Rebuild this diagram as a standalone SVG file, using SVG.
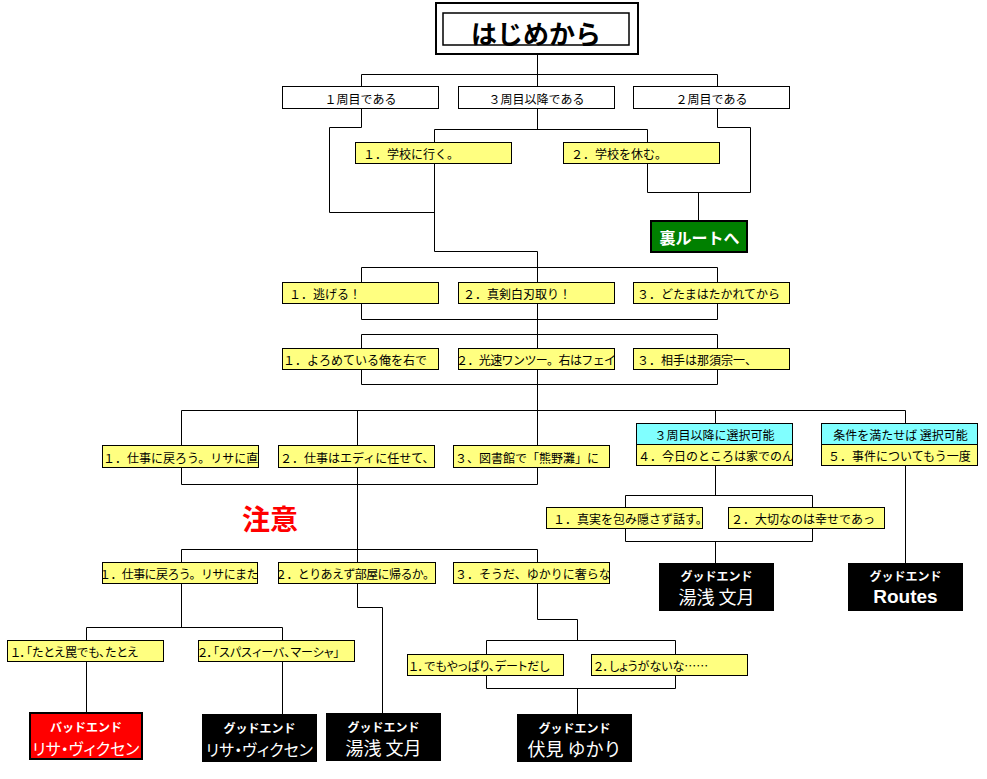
<svg xmlns="http://www.w3.org/2000/svg" width="987" height="779" viewBox="0 0 987 779">
<style>
text{font-family:"Noto Sans CJK JP","Noto Sans",sans-serif;dominant-baseline:central}
.t{font-size:12px;fill:#000}
.c{text-anchor:middle}
.p{font-feature-settings:"palt"}
.n{letter-spacing:-0.6px}
.w{fill:#fff;stroke:#000;stroke-width:1}
.y{fill:#ffff80;stroke:#000;stroke-width:1}
.cy{fill:#80ffff;stroke:#000;stroke-width:1}
.bk{fill:#000}
.e1{font-size:12px;font-weight:bold;fill:#fff;text-anchor:middle}
.e2{font-size:18px;fill:#fff;text-anchor:middle}
#connectors path{fill:none;stroke:#000;stroke-width:1}
</style>
<defs>
<clipPath id="k-yo2"><rect x="459" y="349" width="155" height="20"/></clipPath>
<clipPath id="k-sh1"><rect x="103" y="446" width="155" height="21"/></clipPath>
<clipPath id="k-sh2"><rect x="279" y="446" width="155" height="21"/></clipPath>
<clipPath id="k-4"><rect x="637" y="445" width="155" height="20"/></clipPath>
<clipPath id="k-sj1"><rect x="547" y="508" width="155" height="20"/></clipPath>
<clipPath id="k-r6a"><rect x="103" y="563" width="154" height="20"/></clipPath>
<clipPath id="k-r6b"><rect x="279" y="563" width="156" height="20"/></clipPath>
<clipPath id="k-r6c"><rect x="454" y="563" width="155" height="20"/></clipPath>
<clipPath id="k-r7a"><rect x="8" y="641" width="155" height="20"/></clipPath>
<clipPath id="k-r7b"><rect x="199" y="641" width="155" height="20"/></clipPath>
<clipPath id="k-de1"><rect x="408" y="655" width="155" height="20"/></clipPath>
<clipPath id="k-de2"><rect x="592" y="655" width="155" height="20"/></clipPath>
</defs>
<rect x="0" y="0" width="987" height="779" fill="#fff"/>

<g id="connectors">
<path d="M537.5 55V87M361.5 74.5H717.5M361.5 74.5V87M717.5 74.5V87"/>
<path d="M361.5 109V127.5H329.5V212.5H434.5"/>
<path d="M537.5 109V129.5M434.5 129.5H647.5M434.5 129.5V143M647.5 129.5V143"/>
<path d="M717.5 109V127.5H750.5V192.5H647.5V164M698.5 192.5V220"/>
<path d="M434.5 164V251.5H537.5V282M361.5 267.5H717.5M361.5 267.5V282M717.5 267.5V282"/>
<path d="M361.5 303V319.5H717.5V303M537.5 303V349M361.5 334.5H717.5M361.5 334.5V349M717.5 334.5V349"/>
<path d="M361.5 370V384.5H717.5V370M537.5 370V446"/>
<path d="M181.5 410.5H905.5M181.5 410.5V446M357.5 410.5V446M715.5 410.5V424M905.5 410.5V424"/>
<path d="M181.5 468V484.5H537.5V468M357.5 468V563M181.5 549.5H537.5M181.5 549.5V563M537.5 549.5V563"/>
<path d="M715.5 466V495.5M625.5 495.5H812.5M625.5 495.5V508M812.5 495.5V508M625.5 529V541.5H812.5V529M715.5 541.5V563M905.5 466V563"/>
<path d="M181.5 584V627.5M86.5 627.5H282.5M86.5 627.5V641M282.5 627.5V641M86.5 662V712M282.5 662V714"/>
<path d="M357.5 584V607.5H382.5V713"/>
<path d="M537.5 584V619.5H577.5V640.5M486.5 640.5H675.5M486.5 640.5V655M675.5 640.5V655M486.5 676V688.5H675.5V676M577.5 688.5V714"/>
</g>

<g id="start">
<rect x="436" y="3" width="202" height="51" fill="#fff" stroke="#000" stroke-width="2"/>
<rect x="443" y="13" width="186" height="32" fill="#fff" stroke="#000" stroke-width="1.5"/>
<text x="536" y="32" class="c" style="font-size:26px;font-weight:bold">はじめから</text>
</g>

<g id="r1a"><rect class="w" x="282.5" y="86.5" width="156" height="22"/><text class="t c" x="360.5" y="98">１周目である</text></g>
<g id="r1b"><rect class="w" x="458.5" y="86.5" width="156" height="22"/><text class="t c" x="536.5" y="98">３周目以降である</text></g>
<g id="r1c"><rect class="w" x="633.5" y="86.5" width="156" height="22"/><text class="t c" x="711.5" y="98">２周目である</text></g>

<g id="school1"><rect class="y" x="355.5" y="142.5" width="156" height="21"/><text class="t" x="363" y="153.5">１．学校に行く。</text></g>
<g id="school2"><rect class="y" x="563.5" y="142.5" width="156" height="21"/><text class="t" x="571" y="153.5">２．学校を休む。</text></g>

<g id="ura"><rect x="651" y="221" width="96" height="31" fill="#008000" stroke="#000" stroke-width="2"/><text x="699.5" y="236.5" class="c" style="font-size:16px;font-weight:bold;fill:#fff">裏ルートへ</text></g>

<g id="r3a"><rect class="y" x="282.5" y="282.5" width="156" height="21"/><text class="t" x="289" y="293.5">１．逃げる！</text></g>
<g id="r3b"><rect class="y" x="458.5" y="282.5" width="156" height="21"/><text class="t" x="463" y="293.5">２．真剣白刃取り！</text></g>
<g id="r3c"><rect class="y" x="633.5" y="282.5" width="156" height="21"/><text class="t" x="637" y="293.5">３．どたまはたかれてから</text></g>

<g id="r4a"><rect class="y" x="282.5" y="348.5" width="156" height="21"/><text class="t" x="283" y="359.5">１．よろめている俺を右で</text></g>
<g id="r4b"><rect class="y" x="458.5" y="348.5" width="156" height="21"/><text class="t n" x="456" y="359.5" clip-path="url(#k-yo2)">２．光速ワンツー。右はフェイ</text></g>
<g id="r4c"><rect class="y" x="633.5" y="348.5" width="156" height="21"/><text class="t" x="637" y="359.5">３．相手は那須宗一、</text></g>

<g id="r5a"><rect class="y" x="102.5" y="445.5" width="156" height="22"/><text class="t" x="103" y="457" clip-path="url(#k-sh1)">１．仕事に戻ろう。リサに直</text></g>
<g id="r5b"><rect class="y" x="278.5" y="445.5" width="156" height="22"/><text class="t" x="280" y="457" clip-path="url(#k-sh2)">２．仕事はエディに任せて、</text></g>
<g id="r5c"><rect class="y" x="453.5" y="445.5" width="156" height="22"/><text class="t" x="455" y="457">３、図書館で「熊野灘」に</text></g>
<g id="r5d"><rect class="cy" x="636.5" y="423.5" width="156" height="21"/><text class="t c" x="714.5" y="434.5">３周目以降に選択可能</text><rect class="y" x="636.5" y="444.5" width="156" height="21"/><text class="t" x="638" y="455.5" clip-path="url(#k-4)">４．今日のところは家でのん</text></g>
<g id="r5e"><rect class="cy" x="821.5" y="423.5" width="156" height="21"/><text class="t c" x="900.5" y="434.5">条件を満たせば 選択可能</text><rect class="y" x="821.5" y="444.5" width="156" height="21"/><text class="t" x="828" y="455.5">５．事件についてもう一度</text></g>

<g id="note"><text x="270" y="518" class="c" style="font-size:28px;font-weight:bold;fill:#ff0000">注意</text></g>

<g id="r6d"><rect class="y" x="546.5" y="507.5" width="156" height="21"/><text class="t" x="553" y="518.5" clip-path="url(#k-sj1)">１．真実を包み隠さず話す。</text></g>
<g id="r6e"><rect class="y" x="728.5" y="507.5" width="156" height="21"/><text class="t" x="731" y="518.5">２．大切なのは幸せであっ</text></g>

<g id="end-yuasa1"><rect class="bk" x="659" y="563" width="115" height="48"/><text class="e1" x="716.5" y="575.5">グッドエンド</text><text class="e2" x="716.5" y="596">湯浅 文月</text></g>
<g id="end-routes"><rect class="bk" x="848" y="563" width="115" height="48"/><text class="e1" x="905.5" y="575.5">グッドエンド</text><text x="905.5" y="596" style="font-family:'Liberation Sans',Arial,sans-serif;font-size:19px;font-weight:bold;fill:#fff;text-anchor:middle">Routes</text></g>

<g id="r7a"><rect class="y" x="102.5" y="562.5" width="155" height="21"/><text class="t n" x="99" y="573.5" clip-path="url(#k-r6a)">１．仕事に戻ろう。リサにまた</text></g>
<g id="r7b"><rect class="y" x="278.5" y="562.5" width="157" height="21"/><text class="t n" x="275" y="573.5" clip-path="url(#k-r6b)">２．とりあえず部屋に帰るか。</text></g>
<g id="r7c"><rect class="y" x="453.5" y="562.5" width="156" height="21"/><text class="t" x="455" y="573.5" clip-path="url(#k-r6c)">３．そうだ、ゆかりに奢らな</text></g>

<g id="r8a"><rect class="y" x="7.5" y="640.5" width="156" height="21"/><text class="t p" x="11" y="651.5" clip-path="url(#k-r7a)">１．「たとえ罠でも、たとえ</text></g>
<g id="r8b"><rect class="y" x="198.5" y="640.5" width="156" height="21"/><text class="t p" x="198" y="651.5" clip-path="url(#k-r7b)">２．「スパスィーバ、マーシャ」</text></g>

<g id="r9a"><rect class="y" x="407.5" y="654.5" width="156" height="21"/><text class="t p" x="409" y="665.5" clip-path="url(#k-de1)">１．でもやっぱり、デートだし</text></g>
<g id="r9b"><rect class="y" x="591.5" y="654.5" width="156" height="21"/><text class="t p" x="594" y="665.5" clip-path="url(#k-de2)">２．しょうがないな……</text></g>

<g id="end-lisa-bad"><rect x="30" y="713" width="112" height="46" fill="#ff0000" stroke="#000" stroke-width="2"/><text class="e1" x="86" y="726">バッドエンド</text><text class="e2 p" x="86" y="748" style="font-size:16px">リサ・ヴィクセン</text></g>
<g id="end-lisa-good"><rect class="bk" x="202" y="714" width="115" height="48"/><text class="e1" x="259.5" y="727">グッドエンド</text><text class="e2 p" x="259.5" y="749" style="font-size:16px">リサ・ヴィクセン</text></g>
<g id="end-yuasa2"><rect class="bk" x="326" y="713" width="115" height="48"/><text class="e1" x="383.5" y="726">グッドエンド</text><text class="e2" x="383.5" y="747">湯浅 文月</text></g>
<g id="end-yukari"><rect class="bk" x="517" y="714" width="115" height="48"/><text class="e1" x="574.5" y="727">グッドエンド</text><text class="e2" x="574.5" y="748">伏見 ゆかり</text></g>
</svg>
